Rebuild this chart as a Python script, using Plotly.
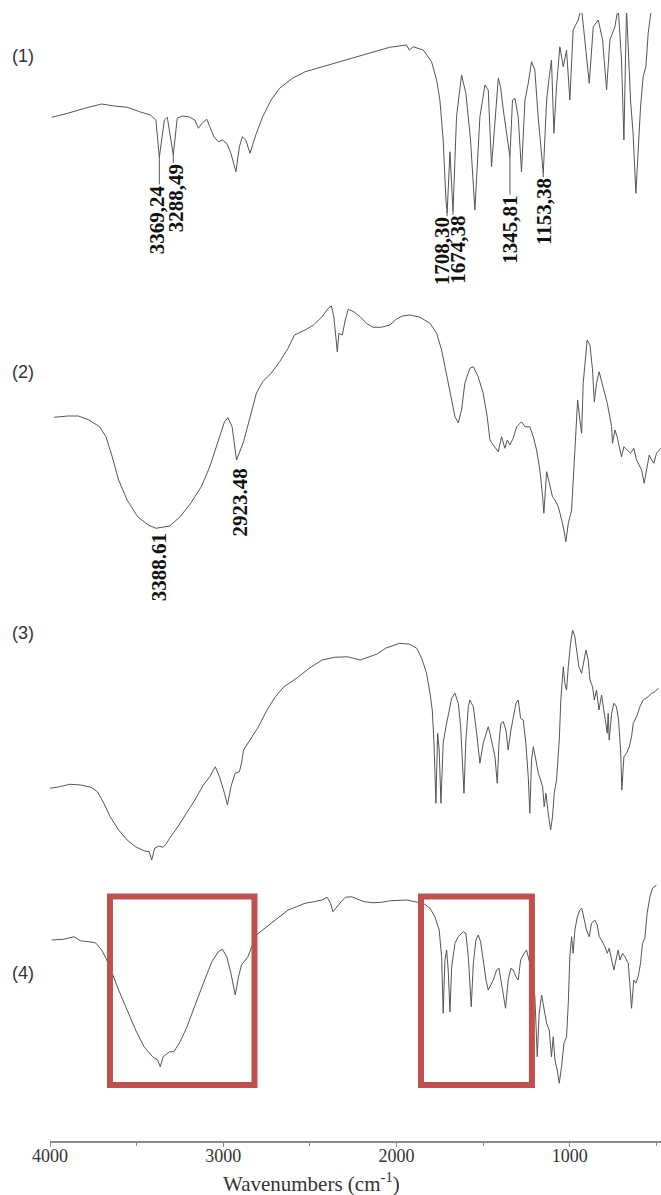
import numpy as np
import plotly.graph_objects as go

# ---------------------------------------------------------------- data
# Spectrum (1)
wn1 = [3990, 3897, 3800, 3702, 3628, 3555, 3482, 3420, 3389, 3369.24,
       3340, 3323, 3288.49, 3266, 3237, 3200, 3164, 3144, 3120, 3095,
       3078, 3054, 3029, 3005, 2980, 2956, 2927, 2907, 2890, 2870,
       2846, 2826, 2809, 2773, 2724, 2675, 2601, 2528, 2430, 2332,
       2235, 2137, 2039, 1942, 1927, 1904, 1846, 1798, 1769, 1750,
       1731, 1715, 1708.30, 1692, 1674.38, 1654, 1625, 1600, 1592, 1573,
       1548, 1519, 1490, 1471, 1452, 1433, 1413, 1400, 1384, 1345.81,
       1331, 1317, 1298, 1279, 1259, 1240, 1221, 1202, 1183, 1153.38,
       1134, 1119, 1106, 1092, 1077, 1058, 1038, 1019, 1000, 981,
       952, 933, 913, 888, 865, 836, 811, 788, 769, 740,
       721, 702, 688, 673, 650, 635, 619, 604, 592, 577,
       561, 548, 529, 510]
t1 = [53.1, 54.7, 56.7, 58.4, 57.6, 57.1, 55.3, 54.0, 52.0, 37.0,
      52.0, 53.1, 38.0, 52.7, 53.6, 53.3, 52.0, 48.7, 50.9, 52.3,
      49.3, 45.3, 43.3, 44.0, 42.7, 38.7, 31.3, 41.3, 45.3, 44.0,
      38.7, 43.3, 46.7, 53.3, 60.0, 64.7, 68.7, 71.3, 73.3, 75.3,
      77.3, 79.3, 81.1, 82.0, 80.0, 81.3, 80.0, 75.3, 68.0, 60.0,
      44.0, 20.0, 14.7, 39.3, 15.3, 53.3, 70.0, 62.7, 57.3, 44.0,
      16.0, 53.3, 66.0, 64.0, 33.3, 50.7, 68.7, 65.3, 56.0, 37.3,
      60.0, 60.7, 53.3, 31.3, 60.0, 66.7, 75.3, 72.0, 53.3, 30.7,
      60.0, 69.3, 76.0, 46.7, 65.3, 81.3, 73.3, 80.0, 60.0, 88.0,
      92.0, 97.0, 84.0, 66.7, 89.3, 92.0, 84.0, 64.0, 84.0, 89.3,
      97.0, 76.0, 44.0, 97.0, 60.0, 46.7, 22.7, 44.0, 57.3, 69.3,
      73.3, 86.7, 97.0, 99.0]

# Spectrum (2)
wn2 = [3976, 3897, 3836, 3775, 3714, 3677, 3641, 3604, 3555, 3494,
       3433, 3388.61, 3310, 3249, 3188, 3127, 3078, 3029, 2993, 2973,
       2949, 2939, 2923.48, 2883, 2846, 2809, 2773, 2724, 2675, 2626,
       2589, 2528, 2479, 2430, 2394, 2376, 2362, 2352, 2342, 2333,
       2313, 2296, 2279, 2247, 2210, 2174, 2137, 2088, 2039, 2002,
       1966, 1923, 1865, 1807, 1769, 1740, 1711, 1682, 1663, 1644,
       1625, 1606, 1577, 1557, 1529, 1500, 1477, 1461, 1442, 1413,
       1394, 1375, 1361, 1346, 1327, 1307, 1279, 1259, 1231, 1211,
       1192, 1173, 1157, 1150, 1134, 1119, 1100, 1086, 1067, 1057,
       1038, 1023, 1009, 990, 981, 965, 955, 942, 932, 923,
       913, 900, 884, 869, 859, 846, 831, 807, 784, 759,
       754, 740, 727, 715, 702, 688, 669, 650, 631, 615,
       600, 586, 571, 557, 542, 529, 515, 500, 475]
t2 = [49.1, 49.6, 49.6, 48.0, 45.3, 41.3, 33.3, 24.0, 16.0, 9.3,
      6.0, 4.7, 5.6, 9.3, 14.7, 21.3, 29.3, 40.0, 47.3, 48.9,
      45.3, 40.0, 32.0, 39.3, 49.3, 58.7, 63.3, 66.7, 71.3, 76.7,
      82.0, 84.0, 86.0, 89.3, 92.7, 93.6, 89.3, 81.3, 75.3, 82.7,
      82.0, 88.0, 92.3, 91.3, 89.3, 86.7, 85.1, 85.1, 86.0, 88.3,
      89.6, 90.0, 89.1, 86.7, 82.7, 76.0, 66.7, 56.0, 49.3, 46.9,
      52.0, 62.7, 68.7, 69.3, 65.3, 58.7, 49.3, 40.0, 38.0, 35.3,
      41.3, 36.7, 40.0, 38.0, 40.7, 45.3, 47.3, 45.3, 45.3, 41.3,
      36.0, 28.0, 17.3, 10.7, 27.3, 22.7, 17.3, 16.0, 13.3, 10.7,
      5.3, -0.7, 6.7, 12.0, 24.0, 44.0, 56.0, 48.0, 42.7, 62.7,
      70.7, 80.0, 78.0, 68.0, 55.3, 62.7, 67.3, 61.3, 54.7, 45.3,
      38.7, 44.0, 41.3, 37.3, 33.3, 37.3, 36.0, 34.7, 36.7, 32.0,
      30.0, 28.0, 22.7, 28.0, 34.0, 32.0, 30.7, 34.7, 36.7]

# Spectrum (3)
wn3 = [4000, 3946, 3885, 3824, 3763, 3726, 3689, 3653, 3604, 3555,
       3506, 3457, 3428, 3413, 3396, 3372, 3347, 3330, 3310, 3262,
       3213, 3164, 3115, 3078, 3046, 3022, 2993, 2976, 2956, 2932,
       2907, 2895, 2883, 2846, 2797, 2748, 2699, 2650, 2577, 2504,
       2430, 2357, 2284, 2210, 2161, 2112, 2064, 2015, 1981, 1923,
       1884, 1855, 1827, 1807, 1794, 1784, 1773, 1763, 1754, 1744,
       1731, 1715, 1696, 1682, 1663, 1644, 1630, 1621, 1611, 1600,
       1586, 1577, 1557, 1538, 1519, 1500, 1484, 1471, 1461, 1446,
       1432, 1419, 1409, 1398, 1384, 1369, 1356, 1340, 1327, 1311,
       1298, 1284, 1269, 1254, 1240, 1231, 1221, 1211, 1196, 1182,
       1169, 1157, 1148, 1138, 1125, 1111, 1100, 1090, 1077, 1061,
       1052, 1038, 1029, 1019, 1009, 996, 984, 971, 961, 948,
       932, 917, 907, 894, 884, 869, 859, 846, 832, 817,
       804, 792, 784, 779, 773, 759, 746, 731, 719, 707,
       700, 688, 673, 657, 644, 634, 615, 596, 577, 548,
       529, 509, 490]
t3 = [24.7, 25.3, 26.3, 26.0, 25.1, 23.3, 18.7, 13.3, 8.0, 4.0,
      1.3, -0.3, -0.7, -4.0, 0.7, 1.6, 1.1, 2.4, 4.7, 9.3,
      14.7, 20.0, 26.0, 29.3, 33.3, 29.3, 22.7, 18.0, 25.3, 30.7,
      31.3, 34.7, 40.0, 44.0, 49.3, 56.0, 61.3, 65.3, 68.7, 72.7,
      76.0, 77.1, 77.3, 76.0, 77.3, 78.4, 80.7, 82.0, 82.7, 82.3,
      80.7, 76.7, 70.7, 62.7, 56.0, 42.7, 18.7, 46.7, 40.0, 18.7,
      42.7, 49.3, 56.0, 60.7, 62.7, 58.7, 49.3, 33.3, 22.7, 44.0,
      57.3, 60.0, 57.3, 46.7, 34.7, 42.7, 46.7, 49.3, 46.7, 41.3,
      37.3, 26.7, 42.7, 50.7, 51.3, 48.0, 40.0, 48.0, 53.3, 58.7,
      60.0, 52.7, 52.0, 42.7, 29.3, 14.7, 36.0, 41.3, 36.0, 30.7,
      28.0, 25.3, 17.3, 22.7, 14.7, 8.0, 13.3, 22.7, 28.0, 44.0,
      60.0, 73.3, 66.7, 64.0, 73.3, 82.7, 88.0, 85.3, 80.0, 73.3,
      70.7, 77.3, 80.0, 76.0, 68.0, 65.3, 60.0, 64.0, 56.0, 62.0,
      56.0, 52.0, 46.7, 54.7, 44.0, 54.7, 58.7, 57.3, 52.0, 40.0,
      24.0, 37.3, 38.7, 41.3, 45.3, 50.7, 53.3, 57.3, 60.0, 61.3,
      62.7, 63.3, 64.7]

# Spectrum (4)
wn4 = [3990, 3922, 3861, 3824, 3775, 3738, 3702, 3677, 3648, 3604,
       3555, 3506, 3457, 3408, 3379, 3364, 3347, 3310, 3286, 3249,
       3213, 3164, 3115, 3066, 3029, 3005, 2980, 2956, 2931, 2912,
       2895, 2858, 2834, 2809, 2773, 2724, 2675, 2626, 2577, 2528,
       2479, 2430, 2401, 2381, 2367, 2345, 2320, 2296, 2259, 2223,
       2186, 2137, 2088, 2039, 1990, 1942, 1894, 1846, 1807, 1779,
       1754, 1740, 1731, 1721, 1711, 1702, 1692, 1682, 1663, 1644,
       1615, 1600, 1586, 1577, 1569, 1557, 1542, 1529, 1515, 1500,
       1484, 1471, 1457, 1442, 1423, 1409, 1398, 1384, 1371, 1356,
       1340, 1327, 1311, 1298, 1284, 1269, 1250, 1221, 1202, 1188,
       1177, 1163, 1150, 1134, 1119, 1106, 1096, 1086, 1073, 1061,
       1048, 1034, 1019, 1009, 1000, 990, 981, 971, 957, 942,
       931, 919, 904, 888, 875, 856, 842, 830, 817, 798,
       784, 773, 759, 746, 734, 721, 711, 696, 682, 663,
       654, 644, 631, 619, 606, 592, 581, 567, 554, 538,
       523, 500]
t4 = [72.0, 72.3, 73.3, 71.7, 71.3, 70.9, 68.0, 64.7, 60.0, 52.0,
      44.0, 36.0, 29.3, 25.3, 24.0, 21.3, 25.3, 27.3, 27.3, 31.3,
      36.7, 45.3, 54.7, 63.3, 67.3, 68.3, 65.3, 58.7, 50.0, 57.3,
      62.0, 65.3, 69.3, 74.0, 76.0, 78.7, 81.3, 84.0, 85.3, 86.7,
      87.3, 88.0, 89.1, 86.7, 83.3, 85.3, 87.3, 89.1, 89.3, 88.3,
      87.3, 86.9, 87.1, 87.7, 88.0, 88.0, 87.3, 86.7, 84.7, 81.3,
      76.0, 65.3, 42.7, 64.0, 68.0, 60.0, 43.3, 61.3, 70.7, 73.3,
      75.3, 74.7, 65.3, 53.3, 45.3, 62.7, 72.0, 74.0, 71.3, 64.0,
      56.0, 52.0, 54.0, 56.0, 60.0, 60.7, 56.0, 50.7, 44.7, 56.0,
      60.7, 60.0, 57.3, 56.0, 64.0, 66.0, 68.0, 60.0, 49.3, 25.3,
      42.7, 50.0, 45.3, 38.7, 36.0, 25.3, 33.3, 24.0, 20.0, 14.7,
      21.3, 30.7, 33.3, 46.7, 65.3, 73.3, 66.7, 76.0, 81.3, 84.0,
      84.7, 81.3, 76.0, 73.3, 78.7, 80.0, 78.0, 73.3, 72.0, 69.3,
      66.7, 68.7, 64.0, 60.0, 64.0, 68.0, 64.0, 66.7, 65.3, 62.7,
      54.7, 44.7, 56.0, 54.7, 57.3, 62.7, 70.7, 72.7, 82.7, 89.3,
      92.7, 94.0]

spectra = [(wn1, t1), (wn2, t2), (wn3, t3), (wn4, t4)]
panel_names = ["(1)", "(2)", "(3)", "(4)"]

# labelled band positions
peaks1 = [3369.24, 3288.49, 1708.30, 1674.38, 1345.81, 1153.38]
peaks2 = [3388.61, 2923.48]

# highlighted wavenumber windows on spectrum (4)
boxes4 = [(3654, 2820), (1859, 1219)]

x_ticks = [4000, 3000, 2000, 1000]
x_minor = [3500, 2500, 1500, 500]
x_title = "Wavenumbers (cm<sup>-1</sup>)"

# ---------------------------------------------------------------- layout
W, H = 661, 1195
ML, MB = 50, 54
PLOT_H = H - MB
X_RANGE = [4000, 474]
PX_PER_UNIT = 2.5

# (top row, bottom row, row where T = 100) for each panel, in pixels
panel_rows = [(13, 285, 0), (295, 590, 290), (600, 868, 600), (872, 1141, 870)]
label_rows = [56, 372, 633, 973]


def paper_y(px):
    return 1 - px / PLOT_H


def paper_x(px):
    return (px - ML) / (W - ML)


def t_at(px, ref):
    return 100 - (px - ref) / PX_PER_UNIT


LINE = "#555555"
SERIF = "Liberation Serif"

fig = go.Figure()

for k, ((wn, tt), (top, bot, ref)) in enumerate(zip(spectra, panel_rows)):
    yname = "y" if k == 0 else f"y{k + 1}"
    fig.add_trace(go.Scatter(x=wn, y=tt, mode="lines", xaxis="x", yaxis=yname,
                             line=dict(color=LINE, width=1), hoverinfo="skip",
                             showlegend=False))
    key = "yaxis" if k == 0 else f"yaxis{k + 1}"
    fig.layout[key] = dict(domain=[paper_y(bot), paper_y(top)],
                           range=[t_at(bot, ref), t_at(top, ref)],
                           visible=False, anchor="x", fixedrange=True)
    fig.add_annotation(text=panel_names[k], xref="paper", yref="paper",
                       x=paper_x(23), y=paper_y(label_rows[k]),
                       showarrow=False, xanchor="center", yanchor="middle",
                       font=dict(family="Liberation Sans", size=18, color="#333"))


def peak_label(wn_list, t_list, yref, value, text, gap, dx, leader):
    order = np.argsort(wn_list)
    t = float(np.interp(value, np.asarray(wn_list)[order], np.asarray(t_list)[order]))
    if leader:
        fig.add_shape(type="line", xref="x", yref=yref, ysizemode="pixel",
                      yanchor=t, x0=value, x1=value, y0=0, y1=-gap,
                      line=dict(color=LINE, width=1))
    fig.add_annotation(x=value, y=t, xref="x", yref=yref, text=f"<b>{text}</b>",
                       showarrow=False, textangle=-90, xanchor="center",
                       yanchor="top", yshift=-gap, xshift=dx, borderpad=0,
                       font=dict(family=SERIF, size=21, color="#111"))


gaps1 = [27, 8, 3, 3, 38, 4]
shifts1 = [-2, 3, -5, 5, 0, 0]
for v, g, s in zip(peaks1, gaps1, shifts1):
    peak_label(wn1, t1, "y", v, f"{v:.2f}".replace(".", ","), g, s, True)

gaps2 = [4, 8]
for v, g in zip(peaks2, gaps2):
    peak_label(wn2, t2, "y2", v, f"{v:.2f}", g, 3, False)

for x0, x1 in boxes4:
    fig.add_shape(type="rect", xref="x", yref="paper", x0=x0, x1=x1,
                  y0=paper_y(1085), y1=paper_y(896.5),
                  line=dict(color="#C0504D", width=6), fillcolor="rgba(0,0,0,0)")

# axis title
fig.add_annotation(text=x_title, xref="paper", yref="paper",
                   x=paper_x(311), y=paper_y(1182), showarrow=False,
                   xanchor="center", yanchor="middle",
                   font=dict(family=SERIF, size=21, color="#333"))

fig.update_layout(
    width=W, height=H,
    margin=dict(l=ML, r=0, t=0, b=MB),
    paper_bgcolor="white", plot_bgcolor="white",
    xaxis=dict(range=X_RANGE, anchor="y4", domain=[0, 1],
               showline=True, linecolor="#8a8a8a", linewidth=1.5,
               ticks="outside", ticklen=4, tickcolor="#8a8a8a",
               tickvals=x_ticks, ticktext=[str(v) for v in x_ticks],
               ticklabelstandoff=-6,
               tickfont=dict(family=SERIF, size=18, color="#333"),
               minor=dict(tickvals=x_minor, ticks="outside", ticklen=3,
                          tickcolor="#8a8a8a"),
               showgrid=False, zeroline=False, fixedrange=True),
)

fig.write_html("out.html")
